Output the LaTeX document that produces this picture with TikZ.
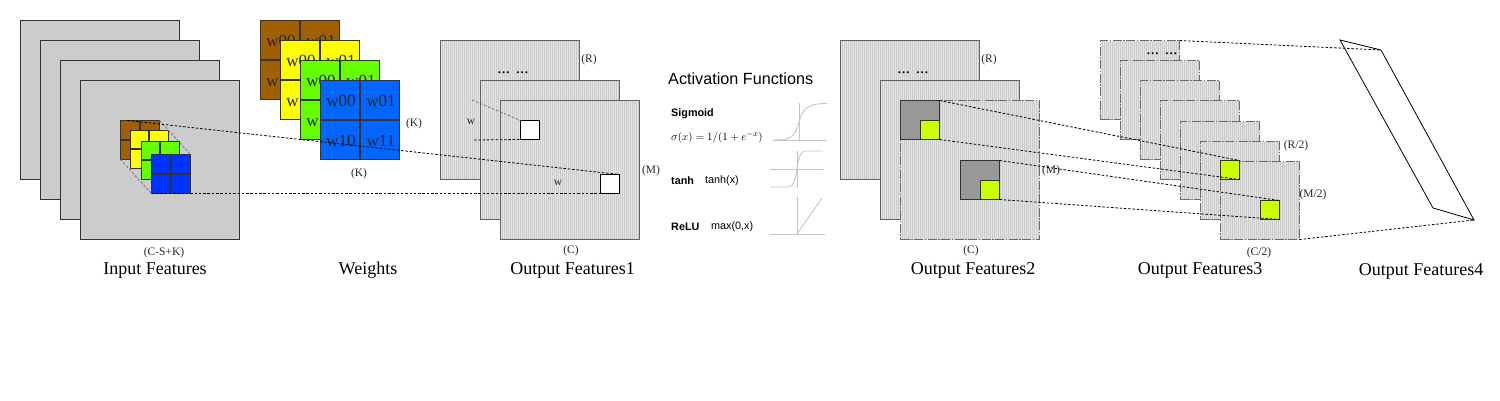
\documentclass[tikz,border=0pt]{standalone}
\usepackage{fontspec}
\setmainfont{Liberation Serif}
\newfontfamily\sansf{Liberation Sans}
\usetikzlibrary{calc}
\definecolor{cbrown}{HTML}{A06000}
\definecolor{cyellow}{HTML}{FFFF00}
\definecolor{cgreen}{HTML}{66FF00}
\definecolor{cblue}{HTML}{0066FF}
\definecolor{cdeep}{HTML}{0033FF}
\definecolor{clime}{HTML}{CCFF00}
\definecolor{cpage}{HTML}{CCCCCC}
\definecolor{cgray}{HTML}{999999}
\definecolor{cink}{HTML}{333333}
\definecolor{chart}{HTML}{C4C4C4}
\definecolor{stripea}{HTML}{E4E4E4}
\definecolor{stripeb}{HTML}{CBCBCB}
\tikzset{
  boxbase/.style={inner sep=0pt,outer sep=0pt,anchor=north west},
  plainsheet/.style={boxbase,draw=cink,line width=1pt,fill=cpage},
  stripes/.style={boxbase,fill=stripea,path picture={
    \foreach \k in {1,...,80}{\draw[solid,stripeb,line width=1pt]
      ([xshift=\k*2pt]path picture bounding box.north west) --
      ([xshift=\k*2pt]path picture bounding box.south west);}}},
  solidsheet/.style={stripes,draw=black!62,line width=1pt},
  dashsheet/.style={stripes,draw=black!58,line width=0.9pt,dash pattern=on 9pt off 1.5pt on 1.5pt off 1.5pt},
  whitebox/.style={boxbase,draw=black,line width=1pt,fill=white},
  graybox/.style={boxbase,draw=cink,line width=1pt,fill=cgray},
  limebox/.style={boxbase,draw=cink,line width=1pt,fill=clime},
  cardbox/.style={boxbase,draw=cink,line width=1pt},
  gridline/.style={draw=cink,line width=1.8pt},
  linkline/.style={draw=black,line width=0.8pt,dash pattern=on 2.5pt off 1.8pt},
  glinkline/.style={draw=black!55,line width=0.8pt,dash pattern=on 2.5pt off 1.8pt},
  solidlink/.style={draw=black,line width=0.8pt},
  bigcaption/.style={font=\fontsize{18}{18}\selectfont,inner sep=0pt,yshift=-2.5pt},
  dimlabel/.style={font=\fontsize{11.5}{11.5}\selectfont,inner sep=0pt,text=black!85,yshift=-1.5pt},
  wtlabel/.style={font=\fontsize{17}{17}\selectfont,inner sep=0pt,text=black!85},
  sflabel/.style={font=\sansf\fontsize{10.8}{10.8}\selectfont,inner sep=0pt,anchor=west,yshift=-1pt},
  sfblabel/.style={font=\sansf\bfseries\fontsize{10.8}{10.8}\selectfont,inner sep=0pt,anchor=west,yshift=-1pt},
  dotlabel/.style={font=\fontsize{17}{17}\selectfont,inner sep=0pt,yshift=-1pt},
  axisline/.style={draw=chart,line width=0.6pt},
  curveline/.style={draw=chart,line width=0.9pt},
}
\newcommand{\mkrect}[6]{\node[#1,minimum width={(#5-#3-1)*1pt},minimum height={(#6-#4-1)*1pt}] (#2) at ({#3+0.5},{#4+0.5}) {};}
\newcommand{\mkcard}[5]{% name x y size colour
  \mkrect{cardbox,fill=#5}{#1}{#2}{#3}{#2+#4}{#3+#4}
  \draw[gridline] (#1.north) -- (#1.south);
  \draw[gridline] (#1.west) -- (#1.east);}
\begin{document}
\begin{tikzpicture}[x=1pt,y=-1pt]
\useasboundingbox (0,0) rectangle (1500,400);
% input features
\mkrect{plainsheet}{ia}{20}{20}{180}{180}
\mkrect{plainsheet}{ib}{40}{40}{200}{200}
\mkrect{plainsheet}{ic}{60}{60}{220}{220}
\mkrect{plainsheet}{id}{80}{80}{240}{240}
\mkcard{sa}{120}{120}{40}{cbrown}
\mkcard{sb}{129.5}{129.5}{39}{cyellow}
\mkcard{sc}{140.5}{140.5}{39}{cgreen}
\mkcard{sd}{151}{154}{40}{cdeep}
\draw[glinkline] (sa.north east) -- (sd.north east);
\draw[glinkline] (sa.south west) -- (sd.south west);
\node[dimlabel] at (164,251) {(C-S+K)};
\node[bigcaption] (inlab) at (155,268) {Input Features};
% weights
\mkcard{wa}{260}{20}{80}{cbrown}
\node[wtlabel] at (281,40.5) {w00}; \node[wtlabel] at (321,40.5) {w01}; \node[wtlabel] at (281,81) {w10};
\mkcard{wb}{280}{40}{80}{cyellow}
\node[wtlabel] at (301,60.5) {w00}; \node[wtlabel] at (341,60.5) {w01}; \node[wtlabel] at (301,101) {w10};
\mkcard{wc}{300}{60}{80}{cgreen}
\node[wtlabel] at (321,80.5) {w00}; \node[wtlabel] at (361,80.5) {w01}; \node[wtlabel] at (321,121) {w10};
\mkcard{wd}{320}{80}{80}{cblue}
\node[wtlabel] at (341,100.5) {w00}; \node[wtlabel] at (381,100.5) {w01}; \node[wtlabel] at (341,141) {w10}; \node[wtlabel] at (381,141) {w11};
\node[dimlabel] at (414,122) {(K)};
\node[dimlabel] at (359,172) {(K)};
\node[bigcaption] (wlab) at (368,268) {Weights};
% output features 1
\mkrect{solidsheet}{oa}{440}{40}{580}{180}
\mkrect{solidsheet}{ob}{480}{80}{620}{220}
\mkrect{solidsheet}{oc}{500}{100}{640}{240}
\mkrect{whitebox}{oe}{520}{120}{540}{140}
\mkrect{whitebox}{of}{600}{174}{620}{194}
\coordinate (ow1) at (472,100);
\coordinate (ow2) at (474,140);
\draw[glinkline] (ow1) -- (oe.north west);
\draw[linkline] (ow2) -- (oe.south west);
\draw[linkline] ($(sa.north west)+(7,0)$) -- (of.north east);
\draw[linkline] (sd.south west) -- (of.south west);
\node[dotlabel] at (513,72) {... ...};
\node[dimlabel] at (471,120) {w};
\node[dimlabel] at (558,181) {w};
\node[dimlabel] at (589,58) {(R)};
\node[dimlabel] at (651,169) {(M)};
\node[dimlabel] at (571,249) {(C)};
\node[bigcaption] (o1lab) at (572.5,268) {Output Features1};
% activation functions
\node[sflabel,font=\sansf\fontsize{16.2}{16.2}\selectfont] (acttitle) at (668,78) {Activation Functions};
\node[sfblabel] (sig) at (671,113) {Sigmoid};
\node[sflabel] (sigf) at (671,136) {\fontsize{11}{11}\selectfont $\sigma(x)=1/(1+e^{-x})$};
\node[sfblabel] (tah) at (671,180) {tanh};
\node[sflabel] (tahf) at (705,180) {tanh(x)};
\node[sfblabel] (rel) at (671,226) {ReLU};
\node[sflabel] (relf) at (711,226) {max(0,x)};
\draw[axisline] (773,140) -- (827,140);
\draw[axisline] (799,103) -- (799,140);
\draw[curveline] (773,140) .. controls (790,140) and (794,139) .. (799,122) .. controls (803,108) and (808,103.5) .. (827,103.5);
\draw[axisline] (770,169) -- (823,169);
\draw[axisline] (797,151) -- (797,188);
\draw[curveline] (770,187) -- (788,187) .. controls (794,187) and (795,180) .. (797,169) .. controls (799,157) and (800,151) .. (806,151) -- (823,151);
\draw[axisline] (770,234) -- (825,234);
\draw[axisline] (797,197) -- (797,234);
\draw[curveline] (797,234) -- (822,198);
% output features 2
\mkrect{solidsheet}{pa}{840}{40}{980}{180}
\mkrect{solidsheet}{pb}{880}{80}{1020}{220}
\mkrect{dashsheet}{pc}{900}{100}{1040}{240}
\mkrect{graybox}{pd}{900}{100}{940}{140}
\mkrect{limebox}{pe}{920}{120}{940}{140}
\mkrect{graybox}{pf}{960}{160}{1000}{200}
\mkrect{limebox}{pg}{980}{180}{1000}{200}
\node[dotlabel] at (913,72) {... ...};
\node[dimlabel] at (989,58) {(R)};
\node[dimlabel] at (1051,169) {(M)};
\node[dimlabel] at (971,249) {(C)};
\node[bigcaption] (o2lab) at (973,268) {Output Features2};
% output features 3
\mkrect{dashsheet}{qa}{1100}{40}{1180}{120}
\mkrect{dashsheet}{qb}{1120}{60}{1200}{140}
\mkrect{dashsheet}{qc}{1140}{80}{1220}{160}
\mkrect{dashsheet}{qd}{1160}{100}{1240}{180}
\mkrect{dashsheet}{qe}{1180}{121}{1260}{200}
\mkrect{dashsheet}{qf}{1200}{141}{1280}{220}
\mkrect{dashsheet}{qg}{1220}{161}{1300}{240}
\mkrect{limebox}{qh}{1220}{160}{1240}{180}
\mkrect{limebox}{qi}{1260}{200}{1280}{220}
\draw[linkline] (pd.north east) -- (qh.north east);
\draw[linkline] (pd.south east) -- (qh.south east);
\draw[linkline] (pf.north east) -- (qi.north east);
\draw[linkline] (pf.south east) -- (qi.south east);
\node[dotlabel] at (1162,53) {... ...};
\node[dimlabel] at (1296,144) {(R/2)};
\node[dimlabel] at (1313,193) {(M/2)};
\node[dimlabel] at (1259,251) {(C/2)};
\node[bigcaption] (o3lab) at (1200,268) {Output Features3};
% output features 4
\coordinate (ra) at (1340,40);
\coordinate (rb) at (1381,50);
\coordinate (rc) at (1474,220);
\coordinate (rd) at (1433,208);
\draw[solidlink] (ra) -- (rb) -- (rc) -- (rd) -- cycle;
\draw[linkline] (qa.north east) -- (rb);
\draw[linkline] (qg.south east) -- (rc);
\node[bigcaption] (o4lab) at (1421,269) {Output Features4};
\end{tikzpicture}
\end{document}
